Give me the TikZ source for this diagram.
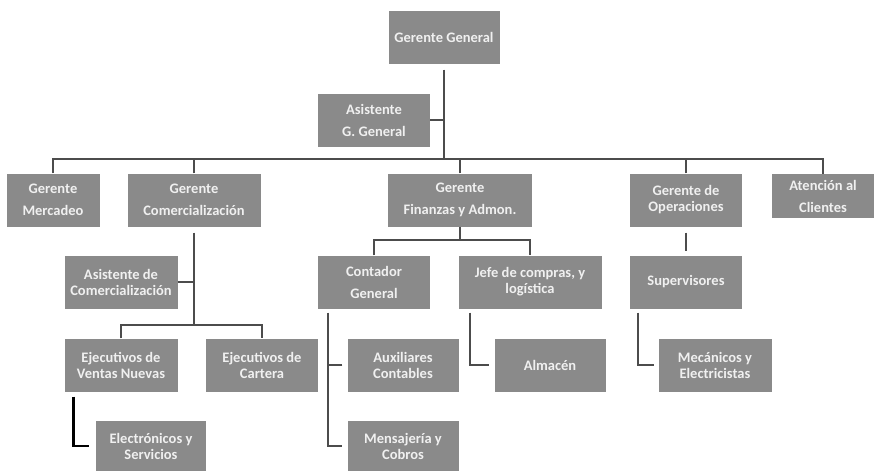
\documentclass[tikz,border=0pt]{standalone}
\usepackage{fontspec}
\setmainfont{Carlito}
\usepackage{tikz}
\usetikzlibrary{positioning}

\begin{document}
\begin{tikzpicture}[x=1pt,y=-1pt]

\definecolor{boxgray}{RGB}{138,138,138}
\tikzstyle{orgbox}=[rectangle,draw=none,fill=boxgray,text=white!94!black,font=\bfseries\fontsize{14.5}{16}\selectfont,align=center,minimum height=53pt,inner sep=0pt]
\tikzstyle{wide}=[font=\bfseries\fontsize{14.5}{22}\selectfont]

\useasboundingbox (0,0) rectangle (875,471);

%% Top level
\node [orgbox,minimum width=111pt] (gg) at (444,37) {Gerente General};
\node [orgbox,wide,minimum width=112pt] (agg) at (374,120) {Asistente\\G. General};

%% Managers
\node [orgbox,wide,minimum width=93pt] (merc) at (53,200) {Gerente\\Mercadeo};
\node [orgbox,wide,minimum width=133pt] (com) at (194,200) {Gerente\\Comercialización};
\node [orgbox,wide,minimum width=144pt] (fin) at (460,200) {Gerente\\Finanzas y Admon.};
\node [orgbox,minimum width=112pt] (ops) at (686,200) {Gerente de\\Operaciones};
\node [orgbox,wide,minimum width=102pt,minimum height=44pt] (cli) at (823,196) {Atención al\\Clientes};

%% Second level
\node [orgbox,minimum width=113pt] (acom) at (121,282) {Asistente de\\Comercialización};
\node [orgbox,wide,minimum width=112pt] (cont) at (374,282) {Contador\\General};
\node [orgbox,minimum width=143pt] (jefe) at (530,282) {Jefe de compras, y\\logística};
\node [orgbox,minimum width=112pt] (sup) at (686,282) {Supervisores};

%% Third level
\node [orgbox,minimum width=113pt] (ejv) at (121,365) {Ejecutivos de\\Ventas Nuevas};
\node [orgbox,minimum width=112pt] (ejc) at (262,365) {Ejecutivos de\\Cartera};
\node [orgbox,minimum width=111pt] (aux) at (403,365) {Auxiliares\\Contables};
\node [orgbox,minimum width=111pt] (alm) at (550,365) {Almacén};
\node [orgbox,minimum width=113pt] (mec) at (715,365) {Mecánicos y\\Electricistas};

%% Bottom level
\node [orgbox,minimum width=110pt,minimum height=50pt] (elec) at (151,446) {Electrónicos y\\Servicios};
\node [orgbox,minimum width=111pt,minimum height=50pt] (mens) at (403,446) {Mensajería y\\Cobros};

%% Connectors
\begin{scope}[every path/.style={line width=2pt,draw=black!70}]
\coordinate (bus) at (0,160);
\coordinate (fbus) at (0,241);
\draw [shorten <=6pt] (gg.south) -- (gg.south |- bus);
\draw (agg.east) -- (agg.east -| gg.south);
\draw (merc.north) -- ++(0,-14) -| (cli.north);
\draw (com.north) -- (com.north |- bus);
\draw (fin.north) -- (fin.north |- bus);
\draw (ops.north) -- (ops.north |- bus);

\draw [shorten <=6pt] (com.south) -- ++(0,98);
\draw (acom.east) -- (acom.east -| com.south);
\draw (ejv.north) -- ++(0,-13) -| (ejc.north);
\draw [black,line width=2.5pt] ([xshift=9pt,yshift=-5pt]ejv.south west) |- ([xshift=-7pt]elec.west);

\draw (fin.south) -- (fin.south |- fbus);
\draw (cont.north) -- ++(0,-15) -| (jefe.north);
\coordinate (cv) at ([xshift=10pt,yshift=-4pt]cont.south west);
\draw (cv) |- ([xshift=-5pt]mens.west);
\draw (aux.west) ++(-5pt,0) -- (aux.west -| cv);
\draw ([xshift=12pt,yshift=-4pt]jefe.south west) |- ([xshift=-5pt]alm.west);

\draw [shorten <=6pt,shorten >=4pt] (ops.south) -- (sup.north);
\draw ([xshift=8pt,yshift=-4pt]sup.south west) |- ([xshift=-4pt]mec.west);
\end{scope}

\end{tikzpicture}
\end{document}
